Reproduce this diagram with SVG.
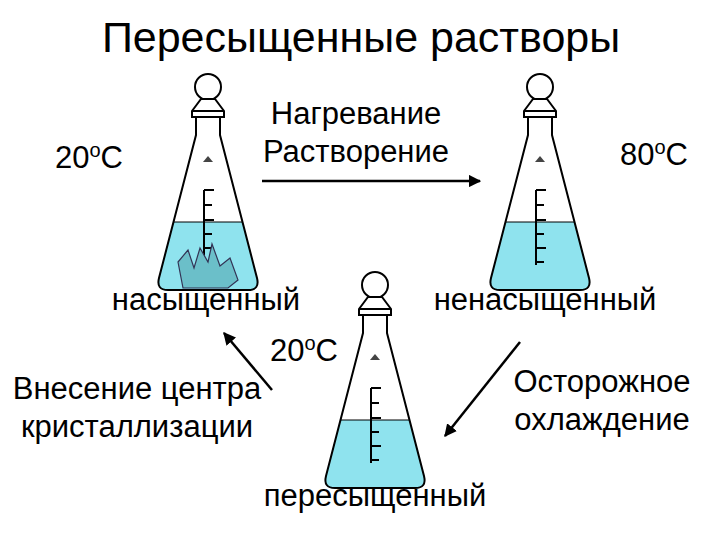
<svg xmlns="http://www.w3.org/2000/svg" width="720" height="540" viewBox="0 0 720 540">
<defs>
<style>
text{font-family:"Liberation Sans",Arial,sans-serif;fill:#000}
.g{fill:none;stroke:#000;stroke-width:2}
.t{font-size:31px}
.c{stroke:#000;stroke-width:2.5;fill:none}
</style>
<clipPath id="bc"><path d="M-12,135 L-49,278 Q-52,290 -40,290 L40,290 Q52,290 49,278 L12,135 Z"/></clipPath>
<marker id="ah" viewBox="0 0 10 10" refX="9" refY="5" markerWidth="5" markerHeight="5" orient="auto"><path d="M0,0 L10,5 L0,10 Z" fill="#000"/></marker>
<g id="flask">
<g clip-path="url(#bc)">
<rect x="-60" y="222" width="120" height="80" fill="#8fe3ee"/>
<path d="M-60,222 L60,222" stroke="#000" stroke-width="1"/>
</g>
<circle cx="0" cy="87" r="13" class="g"/>
<path d="M-7,99 L7,99 L16,111 L16,117 L-16,117 L-16,111 Z" fill="#fff" stroke="#000" stroke-width="2"/>
<path d="M-16,111 L16,111" class="g" stroke-width="1"/>
<path d="M-12,117 L-12,135 L-49,278 Q-52,290 -40,290 L40,290 Q52,290 49,278 L12,135 L12,117" class="g"/>
<path d="M-4,190 L-4,265 M-4,190 L6,190 M-4,205 L4,205 M-4,220 L6,220 M-4,234 L4,234 M-4,248 L6,248 M-4,262 L4,262" class="g" stroke-width="1.5"/>
<path d="M-5,162 L0,156 L5,162 Z" fill="#444"/>
</g>
</defs>
<rect width="720" height="540" fill="#fff"/>
<text x="361" y="52" font-size="43" text-anchor="middle">Пересыщенные растворы</text>
<g id="flask1" transform="translate(208,0)"><use href="#flask"/>
<path d="M-25,288 L-30,262 L-20,250 L-14,268 L-8,248 L0,262 L4,244 L12,266 L22,258 L30,280 L20,288 Z" fill="#6bbfc9" stroke="#335" stroke-width="1.2"/></g>
<g id="flask2" transform="translate(540,0)"><use href="#flask"/></g>
<g id="flask3" transform="translate(375,198)"><use href="#flask"/></g>
<g id="connectors">
<path d="M262,181 L480,181" class="c" marker-end="url(#ah)"/>
<path d="M272,390 L224,333" class="c" marker-end="url(#ah)"/>
<path d="M520,342 L445,436" class="c" marker-end="url(#ah)"/>
</g>
<g id="labels" class="t">
<text x="55" y="168">20<tspan font-size="20" dy="-11">o</tspan><tspan dy="11">C</tspan></text>
<text x="620" y="165">80<tspan font-size="20" dy="-11">o</tspan><tspan dy="11">C</tspan></text>
<text x="270" y="361">20<tspan font-size="20" dy="-11">o</tspan><tspan dy="11">C</tspan></text>
<text x="356" y="124" text-anchor="middle">Нагревание</text>
<text x="356" y="162" text-anchor="middle">Растворение</text>
<text x="206" y="310" text-anchor="middle">насыщенный</text>
<text x="545" y="310" text-anchor="middle">ненасыщенный</text>
<text x="137" y="399" text-anchor="middle">Внесение центра</text>
<text x="137" y="437" text-anchor="middle">кристаллизации</text>
<text x="602" y="392" text-anchor="middle">Осторожное</text>
<text x="602" y="430" text-anchor="middle">охлаждение</text>
<text x="375" y="506" text-anchor="middle">пересыщенный</text>
</g>
</svg>
